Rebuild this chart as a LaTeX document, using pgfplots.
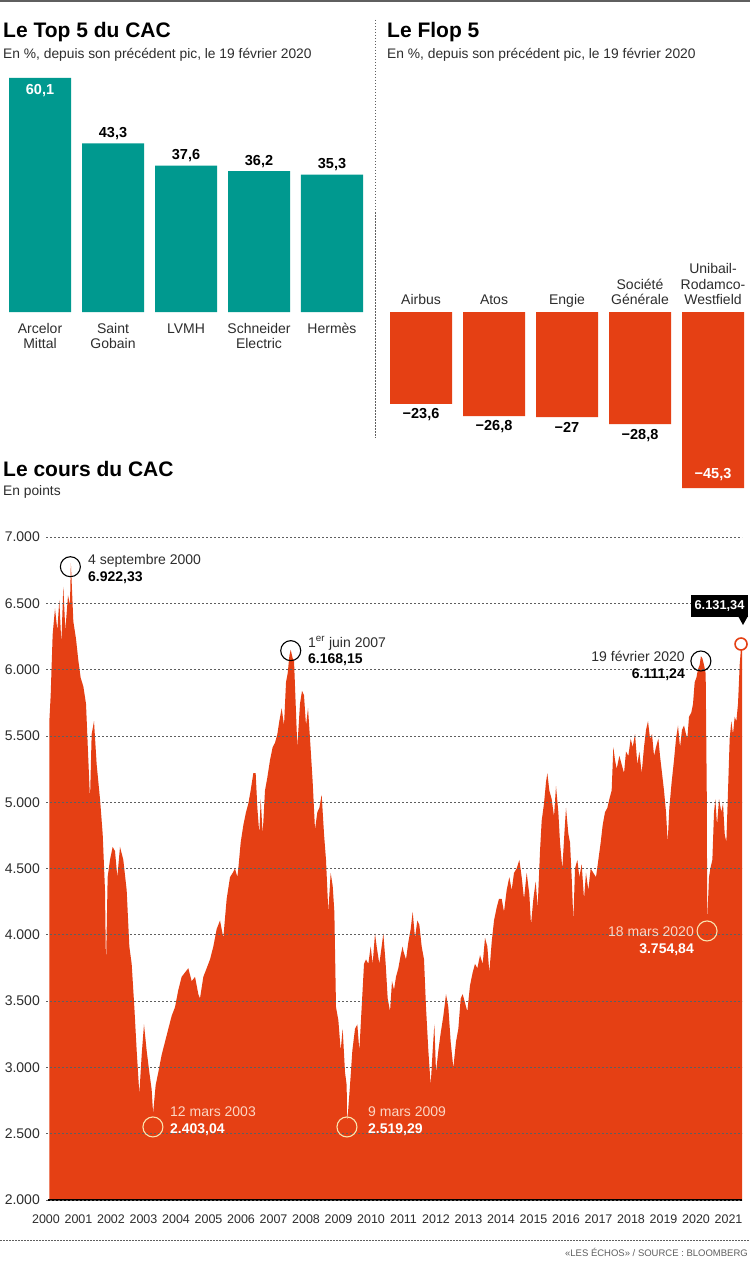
\documentclass[border=0pt]{standalone}
\usepackage{fontspec}
\setmainfont{Liberation Sans}
\usepackage{pgfplots}
\pgfplotsset{compat=1.18}
\definecolor{cacteal}{RGB}{0,153,143}
\definecolor{cacorange}{RGB}{229,64,20}
\definecolor{txt}{RGB}{45,45,45}
\definecolor{gridc}{RGB}{95,95,95}
\definecolor{pale}{RGB}{250,228,175}
\definecolor{peach}{RGB}{252,214,196}
\newcommand{\fs}[1]{\fontsize{#1}{#1}\selectfont}

\pgfplotstableread{
t v
2000.100 2000
2000.103 5611
2000.144 5807
2000.205 6265
2000.277 6461
2000.349 6297
2000.410 6526
2000.472 6199
2000.533 6624
2000.595 6297
2000.677 6559
2000.738 6493
2000.765 6804
2000.841 6363
2000.923 6232
2000.995 6069
2001.067 5938
2001.149 5873
2001.231 5742
2001.303 5317
2001.354 5023
2001.405 5513
2001.477 5611
2001.559 5284
2001.662 5023
2001.744 4761
2001.815 4337
2001.846 3748
2001.897 4435
2001.969 4565
2002.051 4663
2002.123 4631
2002.195 4435
2002.277 4663
2002.379 4565
2002.482 4337
2002.564 3912
2002.636 3781
2002.718 3454
2002.790 3127
2002.872 2800
2002.944 3095
2003.015 3324
2003.097 3127
2003.179 2964
2003.251 2833
2003.295 2653
2003.374 2866
2003.456 2964
2003.559 3095
2003.662 3193
2003.764 3291
2003.867 3389
2003.969 3454
2004.072 3585
2004.174 3683
2004.277 3716
2004.379 3748
2004.482 3650
2004.585 3683
2004.687 3552
2004.738 3520
2004.841 3683
2004.944 3748
2005.046 3814
2005.149 3912
2005.251 4043
2005.354 4108
2005.456 3977
2005.559 4271
2005.662 4435
2005.744 4467
2005.815 4500
2005.887 4435
2005.918 4500
2005.990 4696
2006.072 4827
2006.154 4925
2006.226 4990
2006.297 5088
2006.379 5219
2006.451 5219
2006.503 4957
2006.564 4761
2006.605 5023
2006.667 4761
2006.738 5088
2006.810 5186
2006.892 5317
2006.974 5415
2007.046 5448
2007.118 5513
2007.179 5611
2007.251 5709
2007.323 5578
2007.385 5905
2007.436 5971
2007.487 6101
2007.528 6150
2007.590 6085
2007.631 6069
2007.692 5677
2007.733 5415
2007.815 5742
2007.877 5840
2007.938 5807
2008.000 5578
2008.062 5709
2008.123 5480
2008.205 5153
2008.277 4794
2008.349 4925
2008.410 4957
2008.482 5056
2008.554 4761
2008.615 4565
2008.687 4173
2008.759 4467
2008.821 4369
2008.872 4173
2008.923 3454
2008.995 3356
2009.067 3127
2009.128 3291
2009.200 2964
2009.251 2866
2009.265 2571
2009.354 2866
2009.426 3127
2009.508 3291
2009.579 3324
2009.641 3127
2009.713 3454
2009.785 3781
2009.846 3814
2009.918 3781
2009.990 3912
2010.051 3781
2010.123 4010
2010.174 3912
2010.256 3781
2010.328 3912
2010.379 4010
2010.451 3781
2010.513 3520
2010.585 3422
2010.646 3650
2010.708 3585
2010.769 3683
2010.841 3748
2010.913 3846
2010.974 3912
2010.995 3879
2011.077 3814
2011.149 3945
2011.221 4043
2011.282 4173
2011.354 3977
2011.426 4108
2011.487 4075
2011.559 3912
2011.631 3814
2011.692 3454
2011.764 3127
2011.836 2866
2011.897 3127
2011.949 3324
2012.000 2964
2012.072 3127
2012.144 3258
2012.226 3389
2012.308 3552
2012.379 3454
2012.451 3193
2012.533 2997
2012.615 3193
2012.687 3291
2012.759 3520
2012.821 3552
2012.892 3487
2012.964 3422
2013.046 3618
2013.128 3716
2013.200 3781
2013.272 3748
2013.354 3846
2013.436 3781
2013.508 3977
2013.579 3912
2013.641 3716
2013.713 3945
2013.785 4108
2013.867 4206
2013.938 4271
2014.021 4271
2014.092 4173
2014.174 4337
2014.256 4435
2014.328 4337
2014.400 4467
2014.482 4500
2014.564 4565
2014.636 4435
2014.708 4271
2014.790 4467
2014.872 4304
2014.923 4075
2014.995 4271
2015.067 4402
2015.128 4206
2015.200 4631
2015.251 4859
2015.323 4990
2015.385 5153
2015.426 5219
2015.487 5088
2015.559 5023
2015.631 4892
2015.692 5121
2015.764 4925
2015.815 4696
2015.887 4500
2015.949 4761
2016.000 4957
2016.072 4761
2016.123 4696
2016.174 4435
2016.226 4108
2016.277 4500
2016.349 4565
2016.410 4435
2016.482 4533
2016.554 4271
2016.615 4467
2016.687 4337
2016.759 4500
2016.841 4467
2016.923 4435
2016.995 4565
2017.067 4696
2017.128 4827
2017.200 4925
2017.272 4957
2017.333 5023
2017.405 5088
2017.456 5415
2017.508 5317
2017.559 5251
2017.641 5349
2017.713 5284
2017.785 5219
2017.846 5382
2017.918 5349
2017.990 5480
2018.051 5415
2018.123 5513
2018.195 5284
2018.256 5382
2018.328 5219
2018.400 5415
2018.462 5546
2018.523 5611
2018.585 5480
2018.646 5513
2018.708 5349
2018.769 5415
2018.841 5480
2018.892 5349
2018.954 5219
2019.015 5088
2019.077 4925
2019.128 4696
2019.179 4957
2019.251 5153
2019.323 5317
2019.385 5480
2019.446 5578
2019.508 5415
2019.569 5546
2019.631 5578
2019.692 5513
2019.733 5480
2019.785 5644
2019.856 5677
2019.908 5742
2019.959 5905
2020.010 5938
2020.062 6003
2020.113 6036
2020.150 6101
2020.195 6085
2020.246 6036
2020.297 5971
2020.330 5088
2020.345 4108
2020.400 4435
2020.441 4500
2020.503 4565
2020.554 4925
2020.595 5023
2020.646 4827
2020.708 5023
2020.779 4925
2020.831 4990
2020.882 4761
2020.933 4696
2020.985 5088
2021.036 5480
2021.087 5611
2021.138 5513
2021.190 5644
2021.241 5611
2021.292 5742
2021.344 6036
2021.390 6183
2021.415 6150
2021.415 2000
}\cacdata

\begin{document}
\begin{tikzpicture}
\useasboundingbox (0pt,0pt) rectangle (750pt,-1265pt);
\fill[white] (0pt,0pt) rectangle (750pt,-1265pt);

% top rule
\draw[line width=2pt, color=gridc] (0pt,-1pt) -- (750pt,-1pt);

% titles
\node[anchor=base west, inner sep=0pt, font=\fs{21}\bfseries] at (3pt,-38pt) {Le Top 5 du CAC};
\node[anchor=base west, inner sep=0pt, font=\fs{13.8}, text=txt] at (3pt,-59pt) {En \%, depuis son précédent pic, le 19 février 2020};
\node[anchor=base west, inner sep=0pt, font=\fs{21}\bfseries] at (387pt,-38pt) {Le Flop 5};
\node[anchor=base west, inner sep=0pt, font=\fs{13.8}, text=txt] at (387pt,-59pt) {En \%, depuis son précédent pic, le 19 février 2020};
\node[anchor=base west, inner sep=0pt, font=\fs{21}\bfseries] at (3pt,-476pt) {Le cours du CAC};
\node[anchor=base west, inner sep=0pt, font=\fs{13.8}, text=txt] at (3pt,-495pt) {En points};

% separator
\draw[gridc, line width=0.7pt, dash pattern=on 1.5pt off 1.5pt] (375pt,-20pt) -- (375pt,-438pt);

% ---------- Top 5 ----------
\begin{axis}[
  at={(9pt,-312pt)}, anchor=south west, scale only axis,
  width=354pt, height=234pt,
  xmin=-0.4247, xmax=4.4247, ymin=0, ymax=60.1,
  axis lines=none, clip=false,
  ybar, bar width=62pt, bar shift=0pt,
]
\addplot[fill=cacteal, draw=none] coordinates {(0,60.1) (1,43.3) (2,37.6) (3,36.2) (4,35.3)};
\node[anchor=base, yshift=-17pt, font=\fs{14.5}\bfseries, text=white] at (axis cs:0,60.1) {60,1};
\node[anchor=base, yshift=6pt, font=\fs{14.5}\bfseries] at (axis cs:1,43.3) {43,3};
\node[anchor=base, yshift=6pt, font=\fs{14.5}\bfseries] at (axis cs:2,37.6) {37,6};
\node[anchor=base, yshift=6pt, font=\fs{14.5}\bfseries] at (axis cs:3,36.2) {36,2};
\node[anchor=base, yshift=6pt, font=\fs{14.5}\bfseries] at (axis cs:4,35.3) {35,3};
\begin{scope}[every node/.style={anchor=base, font=\fs{14}, text=txt}]
\node[yshift=-21pt] at (axis cs:0,0) {Arcelor};
\node[yshift=-36pt] at (axis cs:0,0) {Mittal};
\node[yshift=-21pt] at (axis cs:1,0) {Saint};
\node[yshift=-36pt] at (axis cs:1,0) {Gobain};
\node[yshift=-21pt] at (axis cs:2,0) {LVMH};
\node[yshift=-21pt] at (axis cs:3,0) {Schneider};
\node[yshift=-36pt] at (axis cs:3,0) {Electric};
\node[yshift=-21pt] at (axis cs:4,0) {Hermès};
\end{scope}
\end{axis}

% ---------- Flop 5 ----------
\begin{axis}[
  at={(390pt,-312pt)}, anchor=north west, scale only axis,
  width=354pt, height=176.2pt,
  xmin=-0.4247, xmax=4.4247, ymin=-45.3, ymax=0,
  axis lines=none, clip=false,
  ybar, bar width=62pt, bar shift=0pt,
]
\addplot[fill=cacorange, draw=none] coordinates {(0,-23.6) (1,-26.8) (2,-27) (3,-28.8) (4,-45.3)};
\begin{scope}[every node/.style={anchor=base, font=\fs{14.5}\bfseries}]
\node[yshift=-14.5pt] at (axis cs:0,-23.6) {−23,6};
\node[yshift=-14.5pt] at (axis cs:1,-26.8) {−26,8};
\node[yshift=-15pt] at (axis cs:2,-27) {−27};
\node[yshift=-15.5pt] at (axis cs:3,-28.8) {−28,8};
\node[yshift=10pt, text=white] at (axis cs:4,-45.3) {−45,3};
\end{scope}
\begin{scope}[every node/.style={anchor=base, font=\fs{14}, text=txt}]
\node[yshift=8pt] at (axis cs:0,0) {Airbus};
\node[yshift=8pt] at (axis cs:1,0) {Atos};
\node[yshift=8pt] at (axis cs:2,0) {Engie};
\node[yshift=23pt] at (axis cs:3,0) {Société};
\node[yshift=8pt] at (axis cs:3,0) {Générale};
\node[yshift=39pt] at (axis cs:4,0) {Unibail-};
\node[yshift=23pt] at (axis cs:4,0) {Rodamco-};
\node[yshift=8pt] at (axis cs:4,0) {Westfield};
\end{scope}
\end{axis}

% ---------- CAC ----------
\begin{axis}[
  at={(46pt,-1200pt)}, anchor=south west, scale only axis,
  width=696pt, height=663pt,
  xmin=2000, xmax=2021.415, ymin=2000, ymax=7000,
  axis line style={draw=none}, tick style={draw=none},
  ytick={2000,2500,3000,3500,4000,4500,5000,5500,6000,6500,7000},
  yticklabels={2.000,2.500,3.000,3.500,4.000,4.500,5.000,5.500,6.000,6.500,7.000},
  xtick={2000,2001,2002,2003,2004,2005,2006,2007,2008,2009,2010,2011,2012,2013,2014,2015,2016,2017,2018,2019,2020,2021},
  xticklabels={2000,2001,2002,2003,2004,2005,2006,2007,2008,2009,2010,2011,2012,2013,2014,2015,2016,2017,2018,2019,2020,2021},
  yticklabel style={font=\fs{14}, text=txt, inner sep=0pt, xshift=-6pt},
  xticklabel style={font=\fs{12.5}, text=txt, inner sep=0pt, anchor=north, yshift=-15pt},
  ymajorgrids, grid style={gridc, line width=0.7pt, dash pattern=on 2.2pt off 1.8pt},
  axis on top, clip=false,
]
\addplot[fill=cacorange, draw=none] table[x=t, y=v] {\cacdata};
\draw[black, line width=1.6pt] (axis cs:2000.05,2000) -- (axis cs:2021.415,2000);
\addplot[only marks, mark=o, mark size=10pt, mark options={black, line width=1.1pt}]
  coordinates {(2000.75,6776) (2007.53,6143) (2020.15,6065)};
\addplot[only marks, mark=o, mark size=10pt, mark options={pale, line width=1.1pt}]
  coordinates {(2003.29,2551) (2009.26,2551) (2020.34,4029)};
\addplot[only marks, mark=*, mark size=6pt, mark options={fill=white, draw=cacorange, line width=1.6pt}]
  coordinates {(2021.385,6193)};
\end{axis}

% annotations
\begin{scope}[every node/.style={inner sep=0pt}]
\node[anchor=base west, font=\fs{14}, text=txt] at (88pt,-564pt) {4 septembre 2000};
\node[anchor=base west, font=\fs{14}\bfseries] at (88pt,-581pt) {6.922,33};
\node[anchor=base west, font=\fs{14}, text=txt] at (308pt,-647pt) {1\textsuperscript{er} juin 2007};
\node[anchor=base west, font=\fs{14}\bfseries] at (308pt,-663pt) {6.168,15};
\node[anchor=base east, font=\fs{14}, text=txt] at (685pt,-661pt) {19 février 2020};
\node[anchor=base east, font=\fs{14}\bfseries] at (685pt,-678pt) {6.111,24};
\node[anchor=base west, font=\fs{14}, text=peach] at (170pt,-1116pt) {12 mars 2003};
\node[anchor=base west, font=\fs{14}\bfseries, text=white] at (170pt,-1133pt) {2.403,04};
\node[anchor=base west, font=\fs{14}, text=peach] at (368pt,-1116pt) {9 mars 2009};
\node[anchor=base west, font=\fs{14}\bfseries, text=white] at (368pt,-1133pt) {2.519,29};
\node[anchor=base east, font=\fs{14}, text=peach] at (694pt,-936pt) {18 mars 2020};
\node[anchor=base east, font=\fs{14}\bfseries, text=white] at (694pt,-953pt) {3.754,84};
\end{scope}
\fill[black] (691pt,-595pt) rectangle (748pt,-617pt);
\fill[black] (738pt,-616pt) -- (748pt,-616pt) -- (743pt,-625pt) -- cycle;
\node[font=\fs{12.8}\bfseries, text=white, inner sep=0pt] at (719.5pt,-606pt) {6.131,34};

% bottom
\draw[gridc, line width=0.7pt, dash pattern=on 1.5pt off 1.5pt] (0pt,-1240pt) -- (750pt,-1240pt);
\node[anchor=base east, inner sep=0pt, font=\fs{9.5}, text=gridc] at (748pt,-1256pt) {«LES ÉCHOS» / SOURCE : BLOOMBERG};
\end{tikzpicture}
\end{document}
